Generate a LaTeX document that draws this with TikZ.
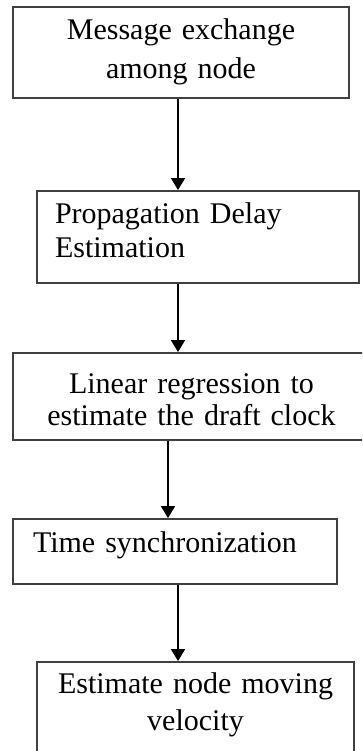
\documentclass[tikz,border=0pt]{standalone}
\usepackage{fontspec}
\setmainfont{Liberation Serif}
\usetikzlibrary{arrows.meta,positioning}

\begin{document}
\begin{tikzpicture}[
  x=1pt,y=-1pt,
  >={Triangle[width=14pt,length=12pt]},
  stepbox/.style={draw=black!75,line width=1.8pt,inner xsep=6pt,inner ysep=0pt,
    text height=20pt,font=\fontsize{30}{39}\selectfont},
  arr/.style={->,line width=1.5pt}
]
\useasboundingbox (0,0) rectangle (362,751);
\clip (0,0) rectangle (362,751);
\node[stepbox,minimum width=336pt,minimum height=91pt,text width=324pt,
  align=center,text depth=45pt] (exch) at (181,52.5)
 {Message exchange\\among node};
\node[stepbox,minimum width=322pt,minimum height=92pt,inner xsep=18pt,
  text width=286pt,align=left,text depth=48pt,
  font=\fontsize{30}{34}\selectfont] (delay) at (198,237)
 {Propagation Delay\\Estimation};
\node[stepbox,minimum width=357pt,minimum height=87pt,text width=345pt,
  align=center,text depth=27pt,font=\fontsize{30}{32}\selectfont] (regr) at (191.5,396.5)
 {Linear regression to\\estimate the draft clock};
\node[stepbox,minimum width=324pt,minimum height=65pt,inner xsep=20pt,
  text width=284pt,align=left,text depth=19pt] (sync) at (175,551.5)
 {Time synchronization};
\node[stepbox,minimum width=317pt,minimum height=98pt,text width=305pt,
  align=center,text depth=56pt,font=\fontsize{30}{37}\selectfont] (veloc) at (195.5,711)
 {Estimate node moving\\velocity};
\coordinate (axis) at (178,0);
\coordinate (axisR) at (168,0);
\draw[arr] (exch.south -| axis)--(delay.north -| axis);
\draw[arr] (delay.south -| axis)--(regr.north -| axis);
\draw[arr] (regr.south -| axisR)--(sync.north -| axisR);
\draw[arr] (sync.south -| axis)--(veloc.north -| axis);
\end{tikzpicture}
\end{document}
